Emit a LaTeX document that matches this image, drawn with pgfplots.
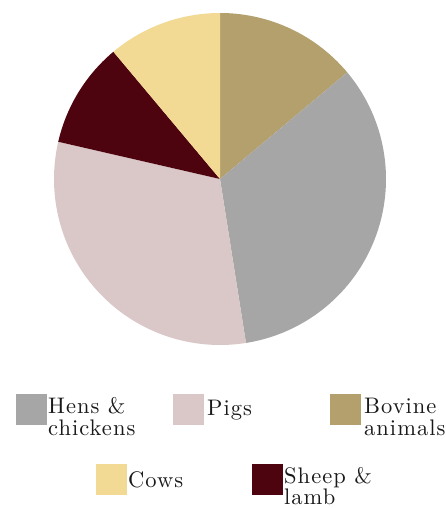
\documentclass[border=0pt]{standalone}
\usepackage{fontspec}
\usepackage{pgfplots}
\usepackage{pgfplotstable}
\pgfplotsset{compat=1.18}
\newfontfamily\legfont[Extension=.otf, LetterSpace=4.5]{lmroman10-regular}
\definecolor{hens}{RGB}{166,166,166}
\definecolor{pigs}{RGB}{218,199,200}
\definecolor{bovine}{RGB}{179,160,108}
\definecolor{cows}{RGB}{242,218,148}
\definecolor{sheep}{RGB}{77,4,14}
\pgfplotstableread{
name value
Bovine 13.9
Hens 33.6
Pigs 31.1
Sheep 10.3
Cows 11.1
}\piedata
\begin{document}
\begin{tikzpicture}
\pgfplotstablegetelem{0}{value}\of\piedata\let\vA\pgfplotsretval
\pgfplotstablegetelem{1}{value}\of\piedata\let\vB\pgfplotsretval
\pgfplotstablegetelem{2}{value}\of\piedata\let\vC\pgfplotsretval
\pgfplotstablegetelem{3}{value}\of\piedata\let\vD\pgfplotsretval
\pgfplotstablegetelem{4}{value}\of\piedata\let\vE\pgfplotsretval
\pgfmathsetmacro\tot{\vA+\vB+\vC+\vD+\vE}
\pgfmathsetmacro\aA{90-360*\vA/\tot}
\pgfmathsetmacro\aB{\aA-360*\vB/\tot}
\pgfmathsetmacro\aC{\aB-360*\vC/\tot}
\pgfmathsetmacro\aD{\aC-360*\vD/\tot}
\pgfmathsetmacro\aE{\aD-360*\vE/\tot}
\begin{axis}[
  x=1pt, y=1pt,
  xmin=-220, xmax=226, ymin=-329, ymax=179,
  hide axis, clip=false,
  samples=80,
]
\path (axis cs:-220,-329) rectangle (axis cs:226,179);
\addplot[fill=bovine, draw=none, domain=\aA:90] ({166*cos(x)},{166*sin(x)}) -- (axis cs:0,0) -- cycle;
\addplot[fill=hens, draw=none, domain=\aB:\aA] ({166*cos(x)},{166*sin(x)}) -- (axis cs:0,0) -- cycle;
\addplot[fill=pigs, draw=none, domain=\aC:\aB] ({166*cos(x)},{166*sin(x)}) -- (axis cs:0,0) -- cycle;
\addplot[fill=sheep, draw=none, domain=\aD:\aC] ({166*cos(x)},{166*sin(x)}) -- (axis cs:0,0) -- cycle;
\addplot[fill=cows, draw=none, domain=\aE:\aD] ({166*cos(x)},{166*sin(x)}) -- (axis cs:0,0) -- cycle;
% legend
\fill[hens] (axis cs:-204,-215) rectangle (axis cs:-173,-246);
\fill[pigs] (axis cs:-47,-215) rectangle (axis cs:-16,-246);
\fill[bovine] (axis cs:110,-215) rectangle (axis cs:141,-246);
\fill[cows] (axis cs:-124,-285) rectangle (axis cs:-93,-316);
\fill[sheep] (axis cs:32,-285) rectangle (axis cs:63,-316);
\begin{scope}[every node/.style={anchor=base west, inner sep=0pt, font=\legfont\fontsize{22.5}{24}\selectfont, text=black!90}]
\node at (axis cs:-172,-235) {Hens \&};
\node at (axis cs:-172,-256.7) {chickens};
\node at (axis cs:-13,-237) {Pigs};
\node at (axis cs:144,-235) {Bovine};
\node at (axis cs:144,-256.7) {animals};
\node at (axis cs:-92,-309) {Cows};
\node at (axis cs:64,-305) {Sheep \&};
\node at (axis cs:64,-326) {lamb};
\end{scope}
\end{axis}
\end{tikzpicture}
\end{document}
